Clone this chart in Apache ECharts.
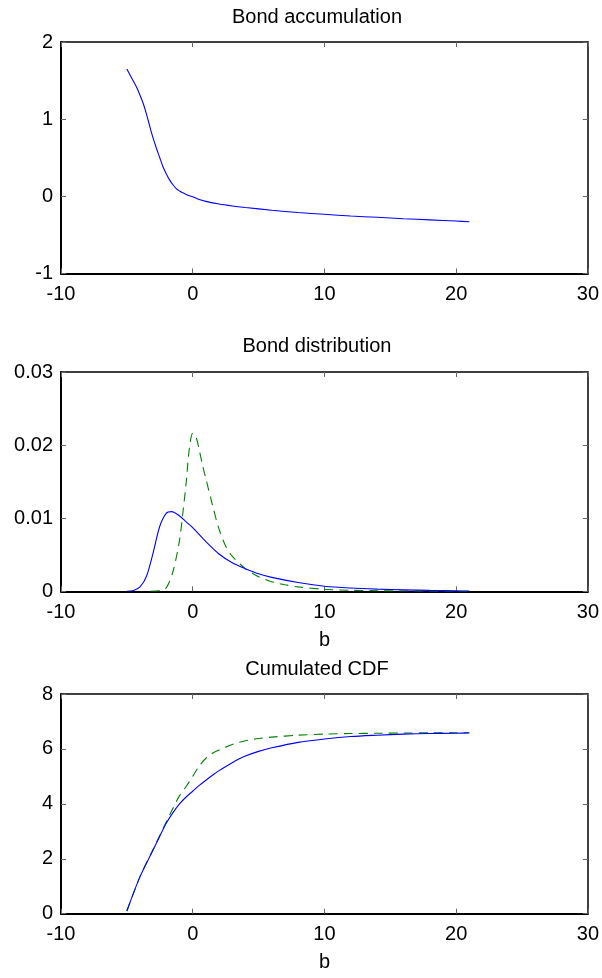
<!DOCTYPE html>
<html>
<head>
<meta charset="utf-8">
<script src="https://cdn.jsdelivr.net/npm/echarts@6/dist/echarts.min.js"></script>
<style>
  html, body { margin: 0; padding: 0; background: #fff; }
  #chart { width: 602px; height: 978px; }
</style>
</head>
<body>
<div id="chart"></div>
<script>
// Bond accumulation curve
const accX = [-5, -4.75, -4.5, -4.25, -4, -3.75, -3.5, -3.25, -3, -2.75, -2.5, -2.25, -2, -1.75, -1.5, -1.25, -1, -0.75, -0.5, -0.25, 0, 0.5, 1, 2, 3, 4, 6, 8, 10, 12, 14, 16, 18, 20, 21];
const accY = [1.65, 1.57, 1.49, 1.41, 1.31, 1.20, 1.06, 0.90, 0.75, 0.62, 0.50, 0.38, 0.29, 0.21, 0.15, 0.10, 0.07, 0.045, 0.025, 0.008, -0.005, -0.04, -0.065, -0.10, -0.125, -0.145, -0.18, -0.21, -0.233, -0.255, -0.272, -0.29, -0.305, -0.32, -0.33];

// Bond distribution, solid (blue) curve
const distBlueX = [-5, -4.5, -4, -3.5, -3, -2.5, -2, -1.6, -1, -0.5, 0, 1, 2, 3, 4, 5, 6, 8, 10, 12, 14, 16, 18, 20, 21];
const distBlueY = [0, 0.0001, 0.0006, 0.0021, 0.0053, 0.0089, 0.0107, 0.0109, 0.0103, 0.0095, 0.0087, 0.0068, 0.0051, 0.0039, 0.0031, 0.0024, 0.0019, 0.0012, 0.0007, 0.00045, 0.0003, 0.0002, 0.00012, 0.00006, 0.00004];

// Bond distribution, dashed (green) curve
const distGreenX = [-3.2, -2.5, -2, -1.5, -1, -0.75, -0.5, -0.25, 0, 0.25, 0.5, 0.75, 1, 1.5, 2, 2.5, 3, 4, 5, 6, 7, 8, 10, 12, 14, 16, 18, 20, 21];
const distGreenY = [0, 0.0001, 0.0005, 0.0027, 0.007, 0.0107, 0.0148, 0.0196, 0.0216, 0.0211, 0.0193, 0.0172, 0.0154, 0.0118, 0.0085, 0.0062, 0.0048, 0.0031, 0.0020, 0.0013, 0.0009, 0.0006, 0.00028, 0.00014, 0.00007, 0.00004, 0.00002, 0.00001, 0];

// Cumulated CDF curves
const cdfX = [-5, -4, -3, -2.5, -2, -1.5, -1, -0.5, 0, 0.5, 1, 1.5, 2, 3, 3.5, 4, 5, 6, 8, 10, 12, 14, 16, 18, 20, 21];
const cdfBlueY = [0.1, 1.35, 2.33, 2.82, 3.3, 3.68, 4.0, 4.25, 4.46, 4.67, 4.86, 5.04, 5.21, 5.5, 5.63, 5.74, 5.91, 6.04, 6.24, 6.36, 6.45, 6.50, 6.54, 6.56, 6.57, 6.58];
const cdfGreenY = [0.1, 1.35, 2.35, 2.85, 3.35, 3.84, 4.3, 4.63, 5.0, 5.38, 5.66, 5.84, 5.96, 6.16, 6.24, 6.3, 6.38, 6.43, 6.5, 6.54, 6.56, 6.57, 6.58, 6.585, 6.59, 6.59];

// Panel titles and axis ranges [min, max, interval]
const titles = ['Bond accumulation', 'Bond distribution', 'Cumulated CDF'];
const xRange = [-10, 30, 10];
const yRanges = [[-1, 2, 1], [0, 0.03, 0.01], [0, 8, 2]];
const xNames = ['', 'b', 'b'];

const FONT = 'Arial, "Liberation Sans", Helvetica, sans-serif';
const grids = [
  { left: 61, top: 42, width: 529, height: 231.5 },
  { left: 61, top: 372, width: 529, height: 219.3 },
  { left: 61, top: 694, width: 529, height: 219.7 }
];
const titleTops = [2, 331, 654];

const pairs = (xs, ys) => xs.map((x, i) => [x, ys[i]]);

const xAxes = [];
const yAxes = [];
grids.forEach((g, i) => {
  const tick = { show: true, inside: true, length: 5, lineStyle: { color: '#666', width: 1 } };
  xAxes.push({
    type: 'value', gridIndex: i, position: 'bottom',
    min: xRange[0], max: xRange[1], interval: xRange[2],
    axisLine: { show: true, onZero: false, lineStyle: { color: '#000', width: 2 } },
    axisTick: tick, splitLine: { show: false },
    axisLabel: { color: '#000', fontSize: 20, fontFamily: FONT, margin: 11, showMinLabel: true, showMaxLabel: true },
    name: xNames[i], nameLocation: 'middle', nameGap: 39,
    nameTextStyle: { color: '#000', fontSize: 20, fontFamily: FONT }
  });
  xAxes.push({
    type: 'value', gridIndex: i, position: 'top',
    min: xRange[0], max: xRange[1], interval: xRange[2],
    axisLine: { show: true, onZero: false, lineStyle: { color: '#000', width: 1.5 } },
    axisTick: tick, splitLine: { show: false }, axisLabel: { show: false }
  });
  const yr = yRanges[i];
  yAxes.push({
    type: 'value', gridIndex: i, position: 'left',
    min: yr[0], max: yr[1], interval: yr[2],
    axisLine: { show: true, onZero: false, lineStyle: { color: '#000', width: 2 } },
    axisTick: tick, splitLine: { show: false },
    axisLabel: { color: '#000', fontSize: 20, fontFamily: FONT, margin: 8, showMinLabel: true, showMaxLabel: true }
  });
  yAxes.push({
    type: 'value', gridIndex: i, position: 'right',
    min: yr[0], max: yr[1], interval: yr[2],
    axisLine: { show: true, onZero: false, lineStyle: { color: '#000', width: 1.5 } },
    axisTick: tick, splitLine: { show: false }, axisLabel: { show: false }
  });
});

const solid = (name, idx, data) => ({
  name, type: 'line', xAxisIndex: 2 * idx, yAxisIndex: 2 * idx, data,
  showSymbol: false, smooth: 0.3, silent: true, z: 3,
  lineStyle: { color: '#0000ff', width: 1.1 }
});
const dashed = (name, idx, data) => ({
  name, type: 'line', xAxisIndex: 2 * idx, yAxisIndex: 2 * idx, data,
  showSymbol: false, smooth: 0.3, silent: true, z: 2,
  lineStyle: { color: '#008000', width: 1.1, type: [9, 6] }
});

const option = {
  animation: false,
  backgroundColor: '#fff',
  title: titles.map((t, i) => ({
    text: t, left: 312, top: titleTops[i], textAlign: 'center',
    textStyle: { color: '#000', fontSize: 20, fontWeight: 'normal', fontFamily: FONT }
  })),
  grid: grids,
  xAxis: xAxes,
  yAxis: yAxes,
  series: [
    solid('accumulation', 0, pairs(accX, accY)),
    solid('distribution', 1, pairs(distBlueX, distBlueY)),
    dashed('distribution (alt)', 1, pairs(distGreenX, distGreenY)),
    solid('cdf', 2, pairs(cdfX, cdfBlueY)),
    dashed('cdf (alt)', 2, pairs(cdfX, cdfGreenY))
  ]
};

const chart = echarts.init(document.getElementById('chart'), null, { renderer: 'canvas' });
chart.setOption(option);
</script>
</body>
</html>
